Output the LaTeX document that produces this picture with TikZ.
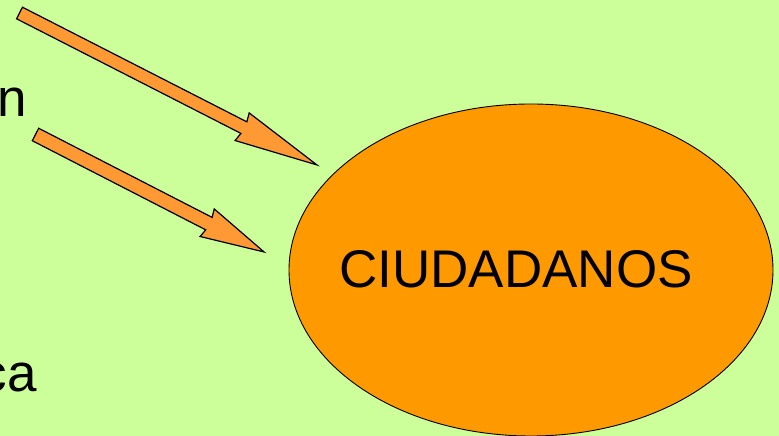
\documentclass[tikz,border=0pt]{standalone}
\usepackage{fontspec}
\setmainfont{Liberation Sans}
\usetikzlibrary{shapes.geometric}
\definecolor{bggreen}{RGB}{204,255,153}
\definecolor{ellorange}{RGB}{255,153,0}
\definecolor{arroworange}{RGB}{255,153,51}
\tikzset{
  blockarrow/.style={fill=arroworange,draw=black,line width=1.2pt,line join=miter},
  bigtext/.style={font=\fontsize{53}{60}\selectfont,inner sep=0pt},
}
\begin{document}
\begin{tikzpicture}[x=1pt,y=1pt]
\fill[bggreen] (0,0) rectangle (779,436);
\useasboundingbox (0,0) rectangle (779,436);
% ellipse
\node[ellipse,draw=black,line width=0.9pt,fill=ellorange,minimum width=484pt,minimum height=332pt,inner sep=0pt] (ciud) at (531,166) {};
\node[bigtext,anchor=base] (ciudtext) at (516,148) {CIUDADANOS};
% cut-off texts at the left edge
\node[bigtext,anchor=base east] (tn) at (27,319) {n};
\node[bigtext,anchor=base east] (tca) at (37,44) {ca};
% arrow 1
\coordinate (a1tail) at (19.5,423);
\begin{scope}[shift={(a1tail)},rotate=-27.06]
\draw[blockarrow] (0,-6.5) -- (252,-6.5) -- (250,-15.5) -- (334,0) -- (250,15.5) -- (252,6.5) -- (0,6.5) -- cycle;
\end{scope}
% arrow 2
\coordinate (a2tail) at (35.5,301.5);
\begin{scope}[shift={(a2tail)},rotate=-27.2]
\draw[blockarrow] (0,-7) -- (195,-7) -- (193,-15.5) -- (257,0) -- (193,15.5) -- (195,7) -- (0,7) -- cycle;
\end{scope}
\end{tikzpicture}
\end{document}
